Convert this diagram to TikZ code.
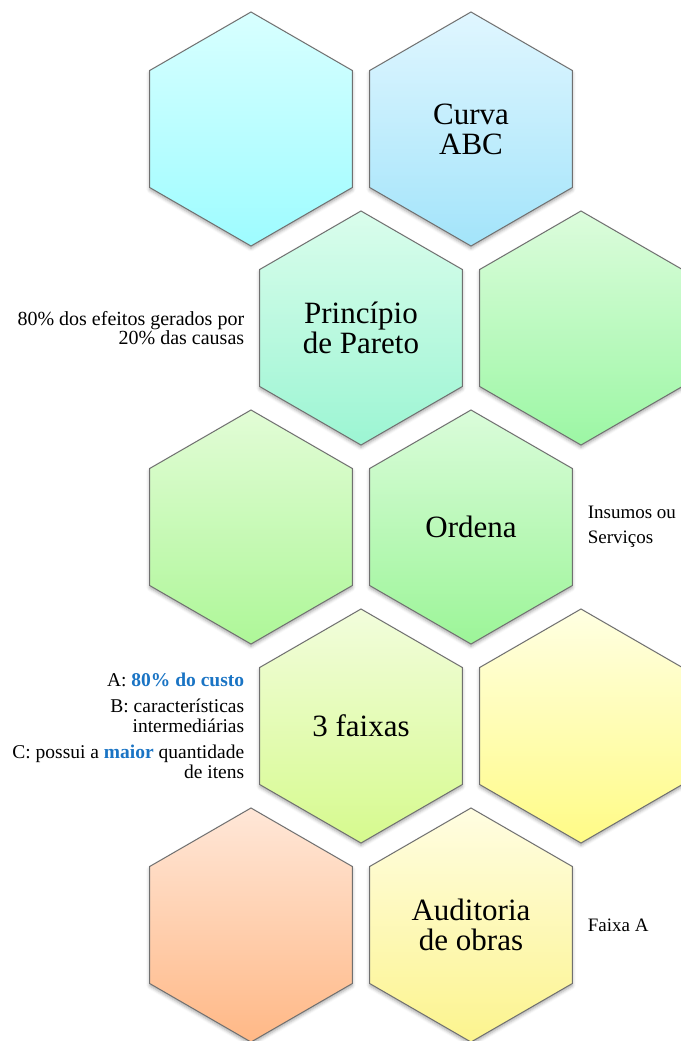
\documentclass[tikz,border=0pt]{standalone}
\usepackage{fontspec}
\setmainfont{Liberation Serif}
\usepackage{tikz}
\usetikzlibrary{positioning,shapes.geometric,shadows.blur}
\usepackage{xcolor}
\definecolor{hexline}{HTML}{707070}
\definecolor{abcblue}{HTML}{1A74C4}
\definecolor{cyanT}{HTML}{D8FFFF}\definecolor{cyanB}{HTML}{9EFCFF}
\definecolor{skyT}{HTML}{E0F6FF}\definecolor{skyB}{HTML}{A3E4FA}
\definecolor{mintT}{HTML}{DAFDEC}\definecolor{mintB}{HTML}{9CF5D3}
\definecolor{leafT}{HTML}{DCFCDC}\definecolor{leafB}{HTML}{9CF7A4}
\definecolor{limeT}{HTML}{E2FCD6}\definecolor{limeB}{HTML}{AEF798}
\definecolor{grassT}{HTML}{DAFCDA}\definecolor{grassB}{HTML}{9CF598}
\definecolor{pistT}{HTML}{F2FDDC}\definecolor{pistB}{HTML}{D6FA8E}
\definecolor{lemonT}{HTML}{FFFFE2}\definecolor{lemonB}{HTML}{FFFB86}
\definecolor{peachT}{HTML}{FFE7D8}\definecolor{peachB}{HTML}{FFB886}
\definecolor{sandT}{HTML}{FFFDE2}\definecolor{sandB}{HTML}{FCF48E}

\begin{document}
\begin{tikzpicture}[node distance=99.5pt and 110pt, every node/.style={font=\fontsize{10}{9.5}\selectfont}]
\tikzset{hex/.style={regular polygon, regular polygon sides=6, shape border rotate=30, minimum size=117pt, inner sep=0pt, on grid, draw=hexline, line width=0.5pt, align=center, font=\fontsize{15.5}{15}\selectfont, blur shadow={shadow xshift=0pt, shadow yshift=-1.2pt, shadow blur radius=1.6pt, shadow opacity=35}}}
\tikzset{note/.style={inner sep=0pt}}
\path[use as bounding box] (0,0) rectangle (340.5pt,-520.5pt);
% honeycomb
\node[hex, top color=cyanT, bottom color=cyanB] (h1) at (125.5pt,-64.5pt) {};
\node[hex, right=of h1, top color=skyT, bottom color=skyB] (curva) {Curva\\ABC};
\node[hex, below right=99.5pt and 55pt of h1, top color=mintT, bottom color=mintB] (pareto) {Princípio\\de Pareto};
\node[hex, right=of pareto, top color=leafT, bottom color=leafB] (h4) {};
\node[hex, below left=99.5pt and 55pt of pareto, top color=limeT, bottom color=limeB] (h5) {};
\node[hex, right=of h5, top color=grassT, bottom color=grassB] (ordena) {Ordena};
\node[hex, below right=99.5pt and 55pt of h5, top color=pistT, bottom color=pistB] (faixas) {3 faixas};
\node[hex, right=of faixas, top color=lemonT, bottom color=lemonB] (h8) {};
\node[hex, below left=99.5pt and 55pt of faixas, top color=peachT, bottom color=peachB] (h9) {};
\node[hex, right=of h9, top color=sandT, bottom color=sandB] (obras) {Auditoria\\de obras};
% side notes
\node[note, left=7.3pt of pareto, align=right] (efeitos) {80\% dos efeitos gerados por\\20\% das causas};
\node[note, right=7.3pt of ordena, align=left, font=\fontsize{9.5}{12.5}\selectfont] (insumos) {Insumos ou\\Serviços};
\node[note, left=7.3pt of faixas, align=right, font=\fontsize{9.75}{10}\selectfont] (classes) {A: \textcolor{abcblue}{\textbf{80\% do custo}}\\[3pt]B: características\\intermediárias\\[3pt]C: possui a \textcolor{abcblue}{\textbf{maior}} quantidade\\de itens};
\node[note, right=7.3pt of obras, font=\fontsize{9.5}{12.5}\selectfont] (faixaA) {Faixa A};
\end{tikzpicture}
\end{document}
